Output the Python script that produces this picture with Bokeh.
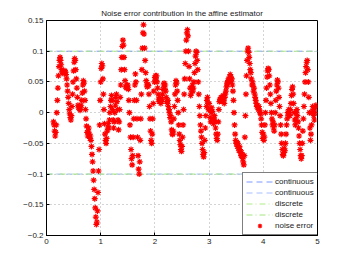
from bokeh.plotting import figure
from bokeh.models import Range1d, FixedTicker, Legend, LegendItem
from bokeh.embed import file_html
from bokeh.resources import INLINE

title_text = "Noise error contribution in the affine estimator"
x_start = 0.13
x_step = 0.01
noise = [
    -0.015, -0.02, -0.03, -0.038, -0.032, -0.02, 0.0, 0.02, 0.04, 0.06,
    0.075, 0.085, 0.09, 0.085, 0.078, 0.07, 0.066, 0.064, 0.068, 0.066,
    0.065, 0.068, 0.066, 0.062, 0.055, 0.045, 0.035, 0.025, 0.015, 0.005,
    -0.002, -0.008, -0.012, -0.005, 0.01, 0.03, 0.05, 0.068, 0.082, 0.088,
    0.085, 0.07, 0.055, 0.04, 0.025, 0.012, 0.008, 0.01, 0.006, 0.004,
    0.008, 0.012, 0.02, 0.032, 0.045, 0.052, 0.048, 0.035, 0.02, 0.005,
    -0.01, -0.022, -0.032, -0.038, -0.03, -0.025, -0.035, -0.042, -0.038, -0.045,
    -0.055, -0.068, -0.08, -0.095, -0.11, -0.125, -0.14, -0.155, -0.17, -0.182,
    -0.178, -0.16, -0.13, -0.095, -0.06, -0.02, 0.02, 0.05, 0.072, 0.08,
    0.076, 0.055, 0.03, 0.005, -0.018, -0.035, -0.045, -0.05, -0.042, -0.03,
    -0.025, -0.018, -0.025, -0.012, 0.0, 0.01, 0.02, 0.028, 0.02, 0.005,
    -0.012, -0.025, -0.015, 0.0, 0.012, 0.025, 0.03, 0.018, 0.005, -0.012,
    -0.028, -0.015, 0.005, 0.025, 0.045, 0.07, 0.09, 0.108, 0.118, 0.11,
    0.09, 0.07, 0.052, 0.043, 0.04, 0.044, 0.042, 0.045, 0.038, 0.02,
    0.0, -0.02, -0.04, -0.06, -0.075, -0.085, -0.07, -0.04, -0.01, 0.02,
    0.045, 0.063, 0.05, 0.02, -0.01, -0.04, -0.07, -0.092, -0.1, -0.08,
    -0.045, -0.01, 0.03, 0.07, 0.105, 0.13, 0.143, 0.128, 0.105, 0.085,
    0.065, 0.052, 0.045, 0.042, 0.046, 0.044, 0.03, 0.01, -0.01, -0.03,
    -0.045, -0.05, -0.035, -0.01, 0.015, 0.035, 0.05, 0.057, 0.06, 0.055,
    0.06, 0.05, 0.04, 0.03, 0.022, 0.018, 0.025, 0.02, 0.015, 0.018,
    0.022, 0.03, 0.038, 0.045, 0.048, 0.04, 0.045, 0.035, 0.025, 0.018,
    0.015, 0.02, 0.01, 0.005, 0.0, -0.008, -0.005, -0.015, -0.028, -0.035,
    -0.035, -0.03, -0.01, 0.01, 0.03, 0.045, 0.052, 0.048, 0.035, 0.02,
    0.0, -0.02, -0.035, -0.045, -0.052, -0.06, -0.063, -0.055, -0.04, -0.02,
    0.005, 0.03, 0.055, 0.08, 0.1, 0.118, 0.13, 0.135, 0.125, 0.1,
    0.075, 0.055, 0.04, 0.028, 0.032, 0.04, 0.045, 0.035, 0.04, 0.05,
    0.065, 0.08, 0.092, 0.1, 0.098, 0.085, 0.07, 0.05, 0.03, 0.01,
    -0.005, -0.02, -0.03, -0.04, -0.05, -0.06, -0.068, -0.072, -0.065, -0.045,
    -0.025, -0.005, 0.01, 0.02, 0.025, 0.015, 0.005, 0.015, 0.005, -0.008,
    -0.015, 0.0, 0.008, 0.002, -0.01, -0.018, -0.01, -0.005, -0.015, -0.025,
    -0.035, -0.042, -0.045, -0.035, -0.015, 0.005, 0.018, 0.022, 0.02, 0.025,
    0.02, 0.018, 0.022, 0.028, 0.02, 0.015, 0.025, 0.03, 0.035, 0.042,
    0.048, 0.045, 0.052, 0.055, 0.05, 0.058, 0.062, 0.058, 0.05, 0.055,
    0.045, 0.035, 0.02, 0.0, -0.02, -0.035, -0.045, -0.05, -0.048, -0.055,
    -0.05, -0.058, -0.062, -0.055, -0.06, -0.065, -0.07, -0.065, -0.07, -0.075,
    -0.08, -0.085, -0.07, -0.04, -0.005, 0.03, 0.06, 0.085, 0.1, 0.105,
    0.098, 0.09, 0.08, 0.07, 0.065, 0.055, 0.045, 0.05, 0.045, 0.035,
    0.04, 0.03, 0.025, 0.02, 0.015, 0.01, 0.012, 0.008, 0.005, 0.01,
    0.004, 0.0, -0.002, -0.01, -0.02, -0.032, -0.042, -0.035, -0.045, -0.04,
    -0.02, 0.0, 0.02, 0.04, 0.058, 0.068, 0.072, 0.07, 0.06, 0.045,
    0.03, 0.015, 0.0, -0.01, -0.02, -0.015, -0.025, -0.03, -0.02, 0.0,
    0.02, 0.035, 0.045, 0.053, 0.05, 0.04, 0.025, 0.01, -0.005, -0.02,
    -0.035, -0.05, -0.06, -0.068, -0.07, -0.065, -0.058, -0.062, -0.05, -0.035,
    -0.02, -0.01, 0.0, -0.005, 0.005, 0.0, -0.005, 0.005, 0.015, 0.028,
    0.038, 0.042, 0.03, 0.015, 0.0, -0.012, -0.02, -0.01, 0.0, 0.005,
    -0.005, -0.015, -0.025, -0.038, -0.05, -0.06, -0.07, -0.075, -0.07, -0.05,
    -0.03, -0.01, 0.01, 0.03, 0.05, 0.065, 0.075, 0.082, 0.085, 0.07,
    0.05, 0.025, 0.0, -0.025, -0.045, -0.035, -0.02, 0.0, 0.01, 0.005,
    -0.005, -0.012, 0.0, 0.008, 0.012,
]
t = [round(x_start + x_step * i, 4) for i in range(len(noise))]

line_span = [0, 5]
continuous_levels = [0.1, -0.1]
discrete_levels = [0.1, -0.1]
x_ticks = [0, 1, 2, 3, 4, 5]
y_ticks = [-0.2, -0.15, -0.1, -0.05, 0, 0.05, 0.1, 0.15]
y_tick_labels = ["\u22120.2", "\u22120.15", "\u22120.1", "\u22120.05", "0", "0.05", "0.1", "0.15"]

FONT = "Liberation Sans"

p = figure(width=342, height=256, x_range=Range1d(0, 5), y_range=Range1d(-0.2, 0.15),
           output_backend="svg", toolbar_location=None,
           min_border_left=46, min_border_right=25, min_border_top=20, min_border_bottom=21)

p.title.text = title_text
p.title.text_font = FONT
p.title.text_font_size = "8px"
p.title.text_font_style = "normal"
p.title.align = "center"
p.title.text_color = "#222222"
p.title.standoff = 5

p.outline_line_color = "black"
p.outline_line_width = 1
p.background_fill_color = "white"
p.border_fill_color = "white"

for ax in (p.xaxis[0], p.yaxis[0]):
    ax.major_label_text_font = FONT
    ax.major_label_text_font_size = "8px"
    ax.major_label_text_color = "#222222"
    ax.major_tick_in = 3
    ax.major_tick_out = 0
    ax.minor_tick_in = 0
    ax.minor_tick_out = 0
    ax.axis_line_color = "black"
    ax.major_tick_line_color = "black"
    ax.major_label_standoff = 3

p.xaxis.ticker = FixedTicker(ticks=x_ticks)
p.yaxis.ticker = FixedTicker(ticks=y_ticks)
p.yaxis.major_label_overrides = {v: s for v, s in zip(y_ticks, y_tick_labels)}

p.xgrid.ticker = FixedTicker(ticks=x_ticks)
p.ygrid.ticker = FixedTicker(ticks=y_ticks)
for g in (p.xgrid[0], p.ygrid[0]):
    g.grid_line_color = "#a8a8a8"
    g.grid_line_dash = "1 3"
    g.grid_line_width = 1

cont_colors = ["#7f98ff", "#a8bcff"]
disc_colors = ["#b0ec88", "#a4e680"]

items = []
for lvl, c in zip(continuous_levels, cont_colors):
    r = p.line(line_span, [lvl, lvl], line_color=c, line_dash="6 4", line_width=1)
    items.append(LegendItem(label="continuous", renderers=[r]))
for lvl, c in zip(discrete_levels, disc_colors):
    r = p.line(line_span, [lvl, lvl], line_color=c, line_dash="6 3 1 3", line_width=1)
    items.append(LegendItem(label="discrete", renderers=[r]))

rn = p.scatter(t, noise, marker="asterisk", size=6, line_color="#ff0000", line_width=1.2)
items.append(LegendItem(label="noise error", renderers=[rn]))

legend = Legend(items=items, location=(196, 0), label_text_font=FONT,
                label_text_font_size="8px", label_text_color="#222222",
                glyph_width=27, glyph_height=11, label_height=11, spacing=0,
                padding=3, margin=0, label_standoff=2,
                border_line_color="black", border_line_width=1,
                background_fill_color="white", background_fill_alpha=1)
p.add_layout(legend, "center")

open("out.html", "w").write(file_html(p, INLINE))
